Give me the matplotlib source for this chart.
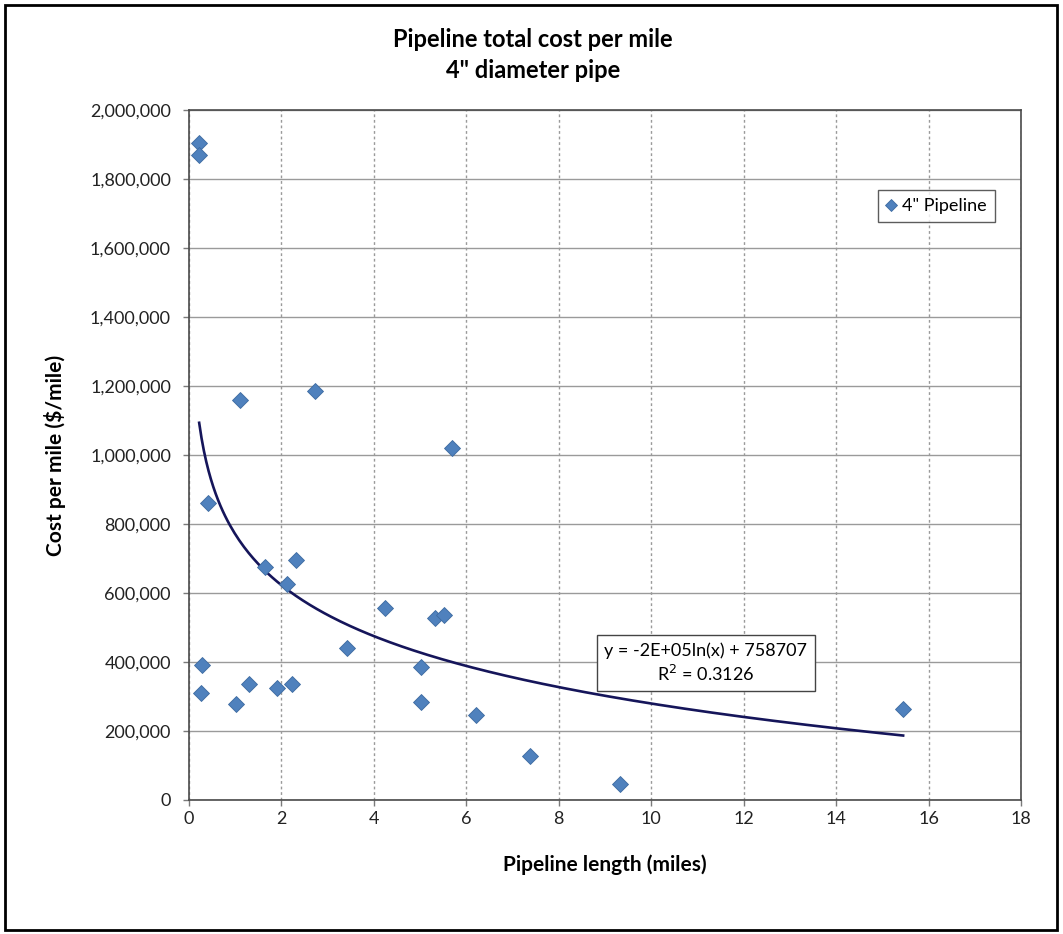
import numpy as np
import matplotlib
matplotlib.use("Agg")
import matplotlib.pyplot as plt
from matplotlib.patches import Rectangle
from matplotlib.ticker import FuncFormatter, MultipleLocator

plt.rcParams['font.family'] = ['Lato', 'DejaVu Sans']

# Data
length_miles = [0.22, 0.22, 1.10, 2.73, 5.69, 0.41, 1.64, 2.31, 2.12, 4.24,
                5.32, 5.52, 3.42, 0.28, 5.02, 0.26, 1.30, 1.90, 2.23, 1.02,
                5.02, 6.21, 7.38, 9.32, 15.45]
cost_per_mile = [1904000, 1870000, 1159000, 1186000, 1020000, 861000, 675000,
                 696000, 626000, 556000, 527000, 536000, 441000, 391000,
                 386000, 310000, 336000, 325000, 336000, 278000, 284000,
                 246000, 128000, 46000, 264000]

title = "Pipeline total cost per mile\n4\" diameter pipe"
xlabel = "Pipeline length (miles)"
ylabel = "Cost per mile ($/mile)"
series_name = "4\" Pipeline"
eq_text = "y = -2E+05ln(x) + 758707\nR$^2$ = 0.3126"

x = np.array(length_miles)
y = np.array(cost_per_mile)

# logarithmic trendline fitted to the data
a, b = np.polyfit(np.log(x), y, 1)
xt = np.linspace(x.min(), x.max(), 300)
yt = a * np.log(xt) + b

W, H = 1063, 934
fig = plt.figure(figsize=(W/100, H/100), dpi=100)
ax = fig.add_axes([189/W, (H-800)/H, (1021-189)/W, (800-110)/H])

ax.plot(xt, yt, color='#15155a', lw=1.9, zorder=3)
ax.plot(x, y, linestyle='none', marker='D', markersize=8.5, color='#4F81BD',
        markeredgecolor='#3d6aa0', markeredgewidth=0.6, label=series_name, zorder=4)

ax.set_xlim(0, 18)
ax.set_ylim(0, 2000000)
ax.xaxis.set_major_locator(MultipleLocator(2))
ax.yaxis.set_major_locator(MultipleLocator(200000))
ax.yaxis.set_major_formatter(FuncFormatter(lambda v, p: f"{int(v):,}"))

ax.grid(axis='y', color='#9a9a9a', lw=1.0, ls='-')
ax.grid(axis='x', color='#9a9a9a', lw=1.0, ls=(0, (2, 2)))
ax.set_axisbelow(True)

for s in ax.spines.values():
    s.set_color('#4a4a4a')
    s.set_linewidth(1.2)

ax.tick_params(axis='both', labelsize=13, color='#7a7a7a', length=4, width=1,
               labelcolor='#222222')
ax.tick_params(axis='y', pad=9)
ax.tick_params(axis='x', pad=4)

ax.set_xlabel(xlabel, fontsize=15, fontweight='bold', va='center')
ax.xaxis.set_label_coords(605/W, 1 - 865/H, transform=fig.transFigure)
ax.set_ylabel(ylabel, fontsize=15, fontweight='bold', va='center')
ax.yaxis.set_label_coords(55/W, 1 - 455/H, transform=fig.transFigure)

fig.text(533/W, 1 - 55/H, title, ha='center', va='center', fontsize=17,
         fontweight='bold', linespacing=1.45)

leg = ax.legend(loc='upper right', bbox_to_anchor=(995/W, 1 - 190/H),
                bbox_transform=fig.transFigure, borderaxespad=0, fontsize=13,
                frameon=True, fancybox=False, handlelength=0.6, handletextpad=0.3,
                borderpad=0.45, markerscale=0.75)
leg.get_frame().set_edgecolor('#333333')
leg.get_frame().set_linewidth(1.0)

ax.text(706/W, 1 - 663/H, eq_text, transform=fig.transFigure, ha='center',
        va='center', fontsize=13, linespacing=1.3,
        bbox=dict(boxstyle='square,pad=0.4', facecolor='white', edgecolor='#444444', lw=1.0),
        zorder=5)

fig.patches.append(Rectangle((5/W, 4/H), 1052/W, 925/H, transform=fig.transFigure,
                             fill=False, edgecolor='black', lw=2))

fig.savefig("out.png", dpi=100, facecolor='white')
